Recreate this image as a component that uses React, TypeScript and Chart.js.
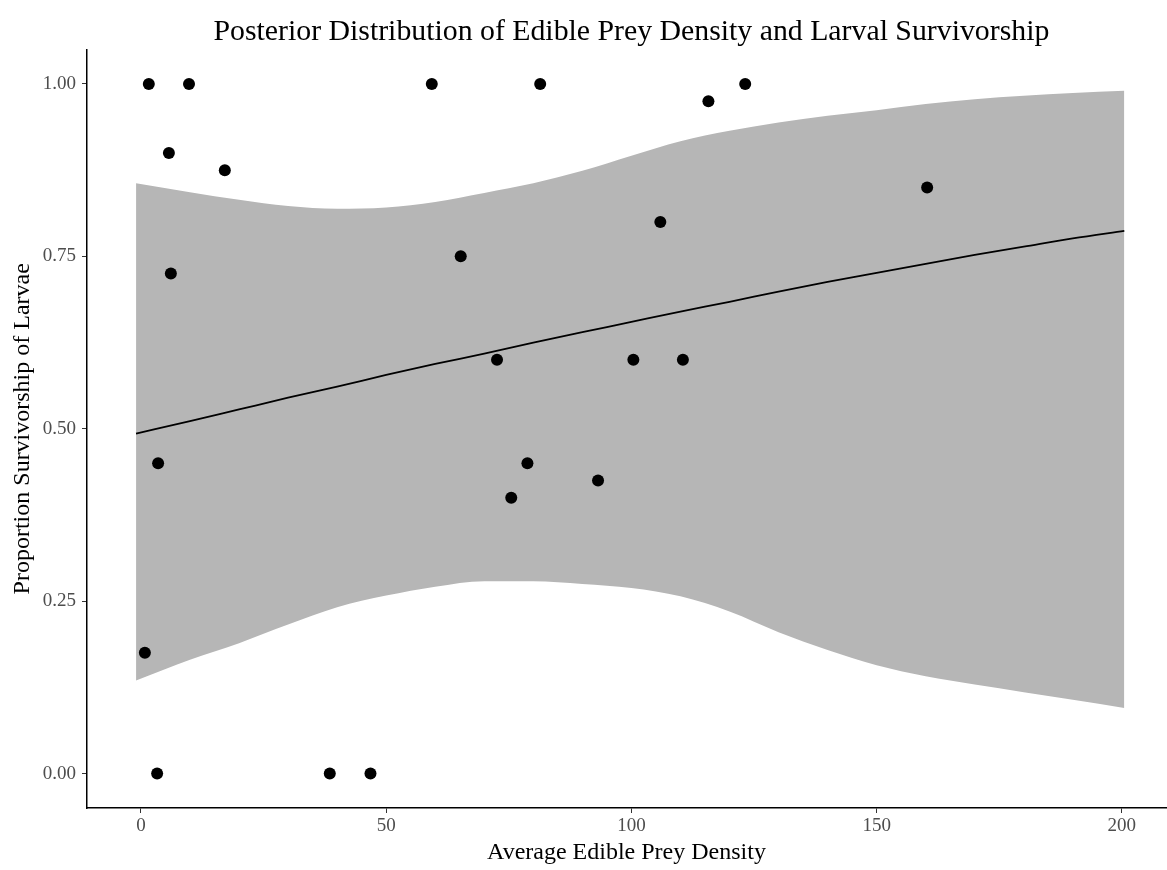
import React, { useEffect, useRef } from "react";
import { Chart, registerables } from "chart.js";

Chart.register(...registerables);

// Observed larvae: average edible prey density vs proportion surviving
const preyDensity = [1.6, 9.8, 59.3, 81.4, 123.2, 115.7, 5.7, 17.1, 160.3, 105.9, 65.2, 6.1, 72.6, 100.4, 110.5, 3.5, 78.8, 75.5, 93.2, 0.8, 3.3, 38.5, 46.8];
const survivorship = [1, 1, 1, 1, 1, 0.975, 0.9, 0.875, 0.85, 0.8, 0.75, 0.725, 0.6, 0.6, 0.6, 0.45, 0.45, 0.4, 0.425, 0.175, 0, 0, 0];

// Posterior fit: grid of densities, mean curve and credible band
const fitDensity = [-1, 10, 20, 30, 40, 50, 60, 70, 80, 90, 100, 110, 120, 130, 140, 150, 160, 170, 180, 190, 200.5];
const fitMean = [0.493, 0.511, 0.528, 0.545, 0.561, 0.578, 0.594, 0.609, 0.625, 0.64, 0.655, 0.67, 0.684, 0.699, 0.713, 0.726, 0.739, 0.752, 0.764, 0.776, 0.787];
const fitUpper = [0.856, 0.843, 0.832, 0.823, 0.819, 0.821, 0.829, 0.842, 0.856, 0.874, 0.896, 0.917, 0.932, 0.944, 0.954, 0.962, 0.971, 0.978, 0.983, 0.987, 0.99];
const fitLower = [0.135, 0.165, 0.189, 0.216, 0.241, 0.258, 0.271, 0.279, 0.279, 0.275, 0.269, 0.257, 0.235, 0.205, 0.179, 0.157, 0.141, 0.129, 0.118, 0.107, 0.095];

const xTicks = [0, 50, 100, 150, 200];
const yTicks = [0, 0.25, 0.5, 0.75, 1];
const yTickLabels = ["0.00", "0.25", "0.50", "0.75", "1.00"];

const chartTitle = "Posterior Distribution of Edible Prey Density and Larval Survivorship";
const xTitle = "Average Edible Prey Density";
const yTitle = "Proportion Survivorship of Larvae";

const SERIF = '"Liberation Serif", "DejaVu Serif", serif';

const pairs = (xs: number[], ys: number[]) => xs.map((x, i) => ({ x, y: ys[i] }));

const titlePlugin = {
  id: "plotTitle",
  afterDraw(chart: any) {
    const { ctx, scales } = chart;
    const cx = scales.x.getPixelForValue(100);
    ctx.save();
    ctx.fillStyle = "#000";
    ctx.font = `29.8px ${SERIF}`;
    ctx.textAlign = "center";
    ctx.textBaseline = "alphabetic";
    ctx.fillText(chartTitle, cx, 40);
    ctx.restore();
  },
};

export default function App() {
  const canvasRef = useRef<HTMLCanvasElement | null>(null);

  useEffect(() => {
    if (!canvasRef.current) return;
    const chart = new Chart(canvasRef.current, {
      type: "scatter",
      data: {
        datasets: [
          {
            label: "observed",
            data: pairs(preyDensity, survivorship),
            backgroundColor: "#000",
            borderColor: "#000",
            borderWidth: 0,
            pointRadius: 6,
            pointHoverRadius: 6,
            order: 0,
          },
          {
            label: "mean",
            data: pairs(fitDensity, fitMean),
            showLine: true,
            borderColor: "#000",
            borderWidth: 1.8,
            pointRadius: 0,
            cubicInterpolationMode: "monotone",
            fill: false,
            order: 1,
          },
          {
            label: "upper",
            data: pairs(fitDensity, fitUpper),
            showLine: true,
            borderWidth: 0,
            borderColor: "rgba(0,0,0,0)",
            backgroundColor: "#b6b6b6",
            pointRadius: 0,
            cubicInterpolationMode: "monotone",
            fill: "+1",
            order: 2,
          },
          {
            label: "lower",
            data: pairs(fitDensity, fitLower),
            showLine: true,
            borderWidth: 0,
            borderColor: "rgba(0,0,0,0)",
            pointRadius: 0,
            cubicInterpolationMode: "monotone",
            fill: false,
            order: 3,
          },
        ],
      },
      options: {
        responsive: false,
        animation: false,
        devicePixelRatio: 1,
        layout: { padding: { top: 49.5, right: 0, left: 0, bottom: 0 } },
        plugins: {
          legend: { display: false },
          tooltip: { enabled: false },
          filler: { propagate: false },
        },
        scales: {
          x: {
            type: "linear",
            min: -11,
            max: 209,
            afterBuildTicks: (scale: any) => {
              scale.ticks = xTicks.map((v) => ({ value: v }));
            },
            afterFit: (scale: any) => {
              scale.height = 62;
            },
            grid: {
              display: true,
              drawOnChartArea: false,
              drawTicks: true,
              tickLength: 5,
              tickColor: "#333",
              tickWidth: 1,
            },
            border: { display: true, color: "#000", width: 1.5 },
            ticks: {
              color: "#4d4d4d",
              font: { family: SERIF, size: 19 },
              padding: 2,
              maxRotation: 0,
              callback: (v: any) => String(v),
            },
            title: {
              display: true,
              text: xTitle,
              color: "#000",
              font: { family: SERIF, size: 24 },
              padding: { top: 0, bottom: 3 },
            },
          },
          y: {
            type: "linear",
            min: -0.05,
            max: 1.05,
            afterBuildTicks: (scale: any) => {
              scale.ticks = yTicks.map((v) => ({ value: v }));
            },
            afterFit: (scale: any) => {
              scale.width = 87;
            },
            grid: {
              display: true,
              drawOnChartArea: false,
              drawTicks: true,
              tickLength: 5,
              tickColor: "#333",
              tickWidth: 1,
            },
            border: { display: true, color: "#000", width: 1.5 },
            ticks: {
              color: "#4d4d4d",
              font: { family: SERIF, size: 19 },
              padding: 6,
              callback: (v: any) => {
                const i = yTicks.indexOf(Number(v));
                return i >= 0 ? yTickLabels[i] : "";
              },
            },
            title: {
              display: true,
              text: yTitle,
              color: "#000",
              font: { family: SERIF, size: 24 },
              padding: { top: 8.5, bottom: 0 },
            },
          },
        },
      },
      plugins: [titlePlugin],
    });
    return () => chart.destroy();
  }, []);

  return (
    <div style={{ position: "fixed", left: 0, top: 0, width: 1167, height: 870, overflow: "hidden", background: "#fff" }}>
      <canvas ref={canvasRef} width={1172} height={870} style={{ display: "block" }} />
    </div>
  );
}
